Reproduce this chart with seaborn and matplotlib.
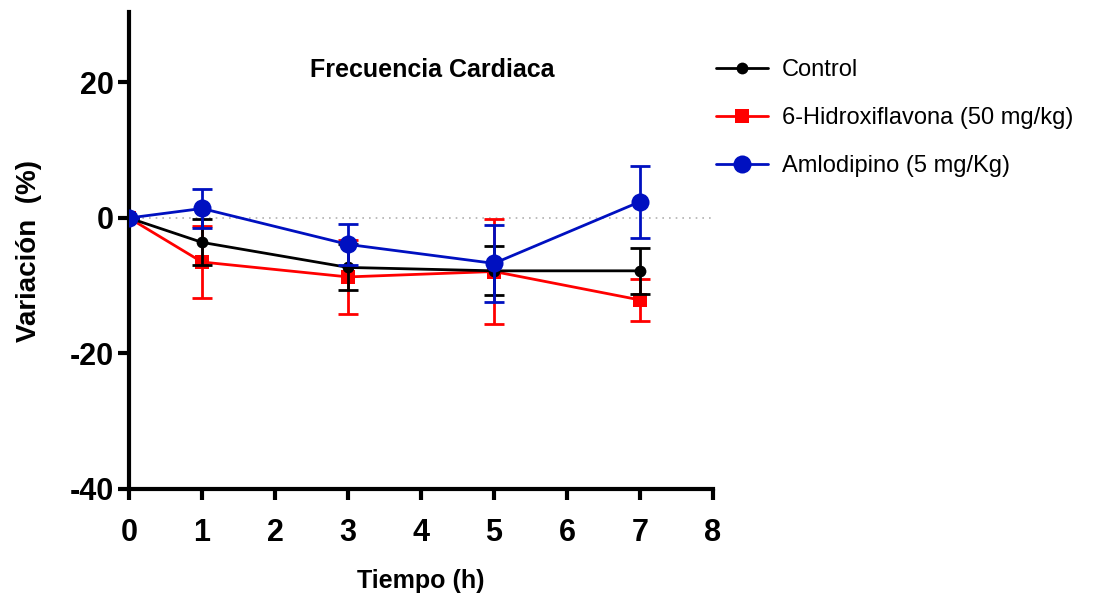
import matplotlib
matplotlib.use("Agg")
import matplotlib.pyplot as plt
import seaborn as sns
import pandas as pd

# Time points (h) and mean variation (%) with SEM for each group
tiempo = [0, 1, 3, 5, 7]

control_media = [0.0, -3.6, -7.3, -7.8, -7.8]
control_sem = [0.0, 3.4, 3.4, 3.6, 3.4]

hidroxi_media = [0.0, -6.5, -8.7, -7.9, -12.1]
hidroxi_sem = [0.0, 5.3, 5.5, 7.7, 3.1]

amlo_media = [0.0, 1.4, -3.9, -6.7, 2.4]
amlo_sem = [0.0, 2.9, 3.0, 5.7, 5.3]

grupos = ["Control", "6-Hidroxiflavona (50 mg/kg)", "Amlodipino (5 mg/Kg)"]
x_ticks = [0, 1, 2, 3, 4, 5, 6, 7, 8]
y_ticks = [-40, -20, 0, 20]

sns.set_style("ticks")
plt.rcParams["font.family"] = ["Liberation Sans", "DejaVu Sans"]
plt.rcParams["axes.unicode_minus"] = False
plt.rcParams["text.color"] = "black"
plt.rcParams["axes.labelcolor"] = "black"
plt.rcParams["xtick.color"] = "black"
plt.rcParams["ytick.color"] = "black"
plt.rcParams["axes.edgecolor"] = "black"

df = pd.DataFrame({
    "Tiempo": tiempo * 3,
    "Variacion": control_media + hidroxi_media + amlo_media,
    "SEM": control_sem + hidroxi_sem + amlo_sem,
    "Grupo": [grupos[0]] * 5 + [grupos[1]] * 5 + [grupos[2]] * 5,
})

fig = plt.figure(figsize=(10.98, 5.98), dpi=100)
ax = fig.add_axes([129 / 1098, 1 - 489 / 598, (713 - 129) / 1098, (489 - 12) / 598])

# zero reference line
ax.axhline(0, color="#b0b0b0", lw=1.2, ls=(0, (1, 3)), zorder=0)

estilos = {
    grupos[1]: dict(color="#ff0000", marker="s", ms=10, z=2),
    grupos[0]: dict(color="#000000", marker="o", ms=8.5, z=3),
    grupos[2]: dict(color="#0010c0", marker="o", ms=13, z=4),
}

handles = {}
for g in [grupos[1], grupos[0], grupos[2]]:
    st = estilos[g]
    sub = df[df["Grupo"] == g]
    ax.errorbar(sub["Tiempo"], sub["Variacion"], yerr=sub["SEM"], fmt="none",
                ecolor=st["color"], elinewidth=2, capsize=7, capthick=2,
                zorder=st["z"])
    sns.lineplot(data=sub, x="Tiempo", y="Variacion", ax=ax, color=st["color"],
                 marker=st["marker"], markersize=st["ms"], markeredgewidth=0,
                 linewidth=2, label=g, zorder=st["z"] + 0.5, errorbar=None)
    handles[g] = ax.get_lines()[-1]

if ax.get_legend() is not None:
    ax.get_legend().remove()

ax.set_xlim(0, 8)
ax.set_ylim(-40, 30.4)
ax.set_xticks(x_ticks, labels=[str(v) for v in x_ticks], fontsize=22, fontweight="bold")
ax.set_yticks(y_ticks, labels=[str(v) for v in y_ticks], fontsize=22, fontweight="bold")
ax.tick_params(axis="both", width=3, length=8, color="black")
ax.tick_params(axis="x", pad=13)
ax.tick_params(axis="y", pad=3)
sns.despine(ax=ax)
for s in ["left", "bottom"]:
    ax.spines[s].set_linewidth(3)

ax.set_xlabel("Tiempo (h)", fontsize=18, fontweight="bold", labelpad=15)
ax.set_ylabel("Variación  (%)", fontsize=20, fontweight="bold", labelpad=20)

ax.text(4.15, 21.9, "Frecuencia Cardiaca", ha="center", va="center",
        fontsize=18, fontweight="bold")

fig.legend([handles[g] for g in grupos], grupos, loc="upper left",
           bbox_to_anchor=(716 / 1098, 1 - 59 / 598), frameon=False,
           fontsize=17, handlelength=2.2, handletextpad=0.6, labelspacing=1.1,
           borderpad=0, borderaxespad=0)

fig.savefig("out.png", dpi=100)
